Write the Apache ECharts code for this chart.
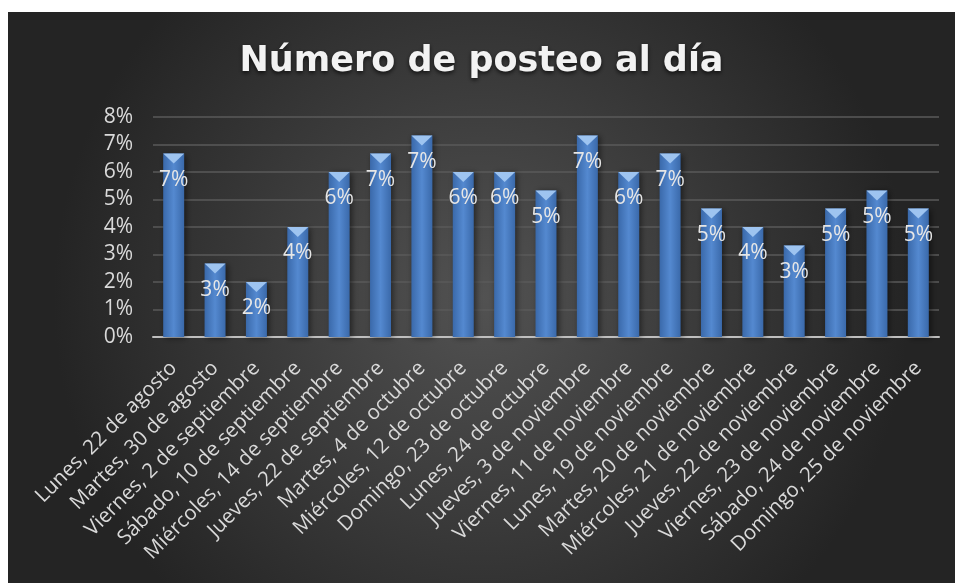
<!DOCTYPE html>
<html>
<head>
<meta charset="utf-8">
<script src="https://cdn.jsdelivr.net/npm/echarts@6/dist/echarts.min.js"></script>
<style>
html,body{margin:0;padding:0;background:#fff;width:955px;height:583px;overflow:hidden;}
#chart{position:absolute;left:8px;top:12px;width:947px;height:571px;}
</style>
</head>
<body>
<div id="chart"></div>
<script>
const titleText = 'Número de posteo al día';
const categories = [
  'Lunes, 22 de agosto','Martes, 30 de agosto','Viernes, 2 de septiembre','Sábado, 10 de septiembre',
  'Miércoles, 14 de septiembre','Jueves, 22 de septiembre','Martes, 4 de octubre','Miércoles, 12 de octubre',
  'Domingo, 23 de octubre','Lunes, 24 de octubre','Jueves, 3 de noviembre','Viernes, 11 de noviembre',
  'Lunes, 19 de noviembre','Martes, 20 de noviembre','Miércoles, 21 de noviembre','Jueves, 22 de noviembre',
  'Viernes, 23 de noviembre','Sábado, 24 de noviembre','Domingo, 25 de noviembre'
];
const percentValues = [6.67, 2.67, 2.00, 4.00, 6.00, 6.67, 7.33, 6.00, 6.00, 5.33, 7.33, 6.00, 6.67, 4.67, 4.00, 3.33, 4.67, 5.33, 4.67];
const yTicks = { min: 0, max: 8, interval: 1 };

const chart = echarts.init(document.getElementById('chart'), null, {renderer: 'canvas'});
const font = "'Open Sans', 'DejaVu Sans', sans-serif";
chart.setOption({
  backgroundColor: {
    type: 'radial', x: 0.5, y: 0.5, r: 0.75,
    colorStops: [{offset: 0, color: '#525252'}, {offset: 1, color: '#242424'}]
  },
  title: {
    text: titleText, left: 'center', top: 27,
    textStyle: {
      color: '#f2f2f2', fontFamily: "'DejaVu Sans', sans-serif", fontSize: 35, fontWeight: 'bold',
      textShadowColor: 'rgba(0,0,0,0.7)', textShadowBlur: 4, textShadowOffsetY: 2
    }
  },
  grid: {left: 145, top: 105, width: 786, height: 220, containLabel: false},
  xAxis: {
    type: 'category', data: categories,
    axisLine: {lineStyle: {color: '#bfbfbf', width: 2}},
    axisTick: {show: false},
    axisLabel: {rotate: 45, color: '#d9d9d9', fontFamily: font, fontSize: 20.5, margin: 28, interval: 0}
  },
  yAxis: {
    type: 'value', min: yTicks.min, max: yTicks.max, interval: yTicks.interval,
    axisLine: {show: false}, axisTick: {show: false},
    axisLabel: {formatter: '{value}%', color: '#d9d9d9', fontFamily: font, fontSize: 21, margin: 20},
    splitLine: {lineStyle: {color: '#5a5a5a', width: 1.5}}
  },
  series: [
    {
      type: 'bar', data: percentValues, barWidth: 21,
      itemStyle: {
        color: {
          type: 'linear', x: 0, y: 0, x2: 1, y2: 0,
          colorStops: [
            {offset: 0, color: '#3a69aa'}, {offset: 0.5, color: '#5489d0'}, {offset: 1, color: '#3a69aa'}
          ]
        },
        shadowColor: 'rgba(0,0,0,0.5)', shadowBlur: 6, shadowOffsetX: 2, shadowOffsetY: 1
      },
      label: {
        show: true, position: 'insideTop', distance: 16,
        formatter: p => Math.round(p.value) + '%',
        color: '#e6e6e6', fontFamily: font, fontSize: 21
      },
      z: 2
    },
    {
      type: 'pictorialBar', data: percentValues, symbol: 'triangle', symbolRotate: 180,
      symbolSize: [21, 10], symbolPosition: 'end', symbolOffset: [0, 0],
      itemStyle: {color: '#9ec4f0'}, z: 3, silent: true
    }
  ]
});
</script>
</body>
</html>
